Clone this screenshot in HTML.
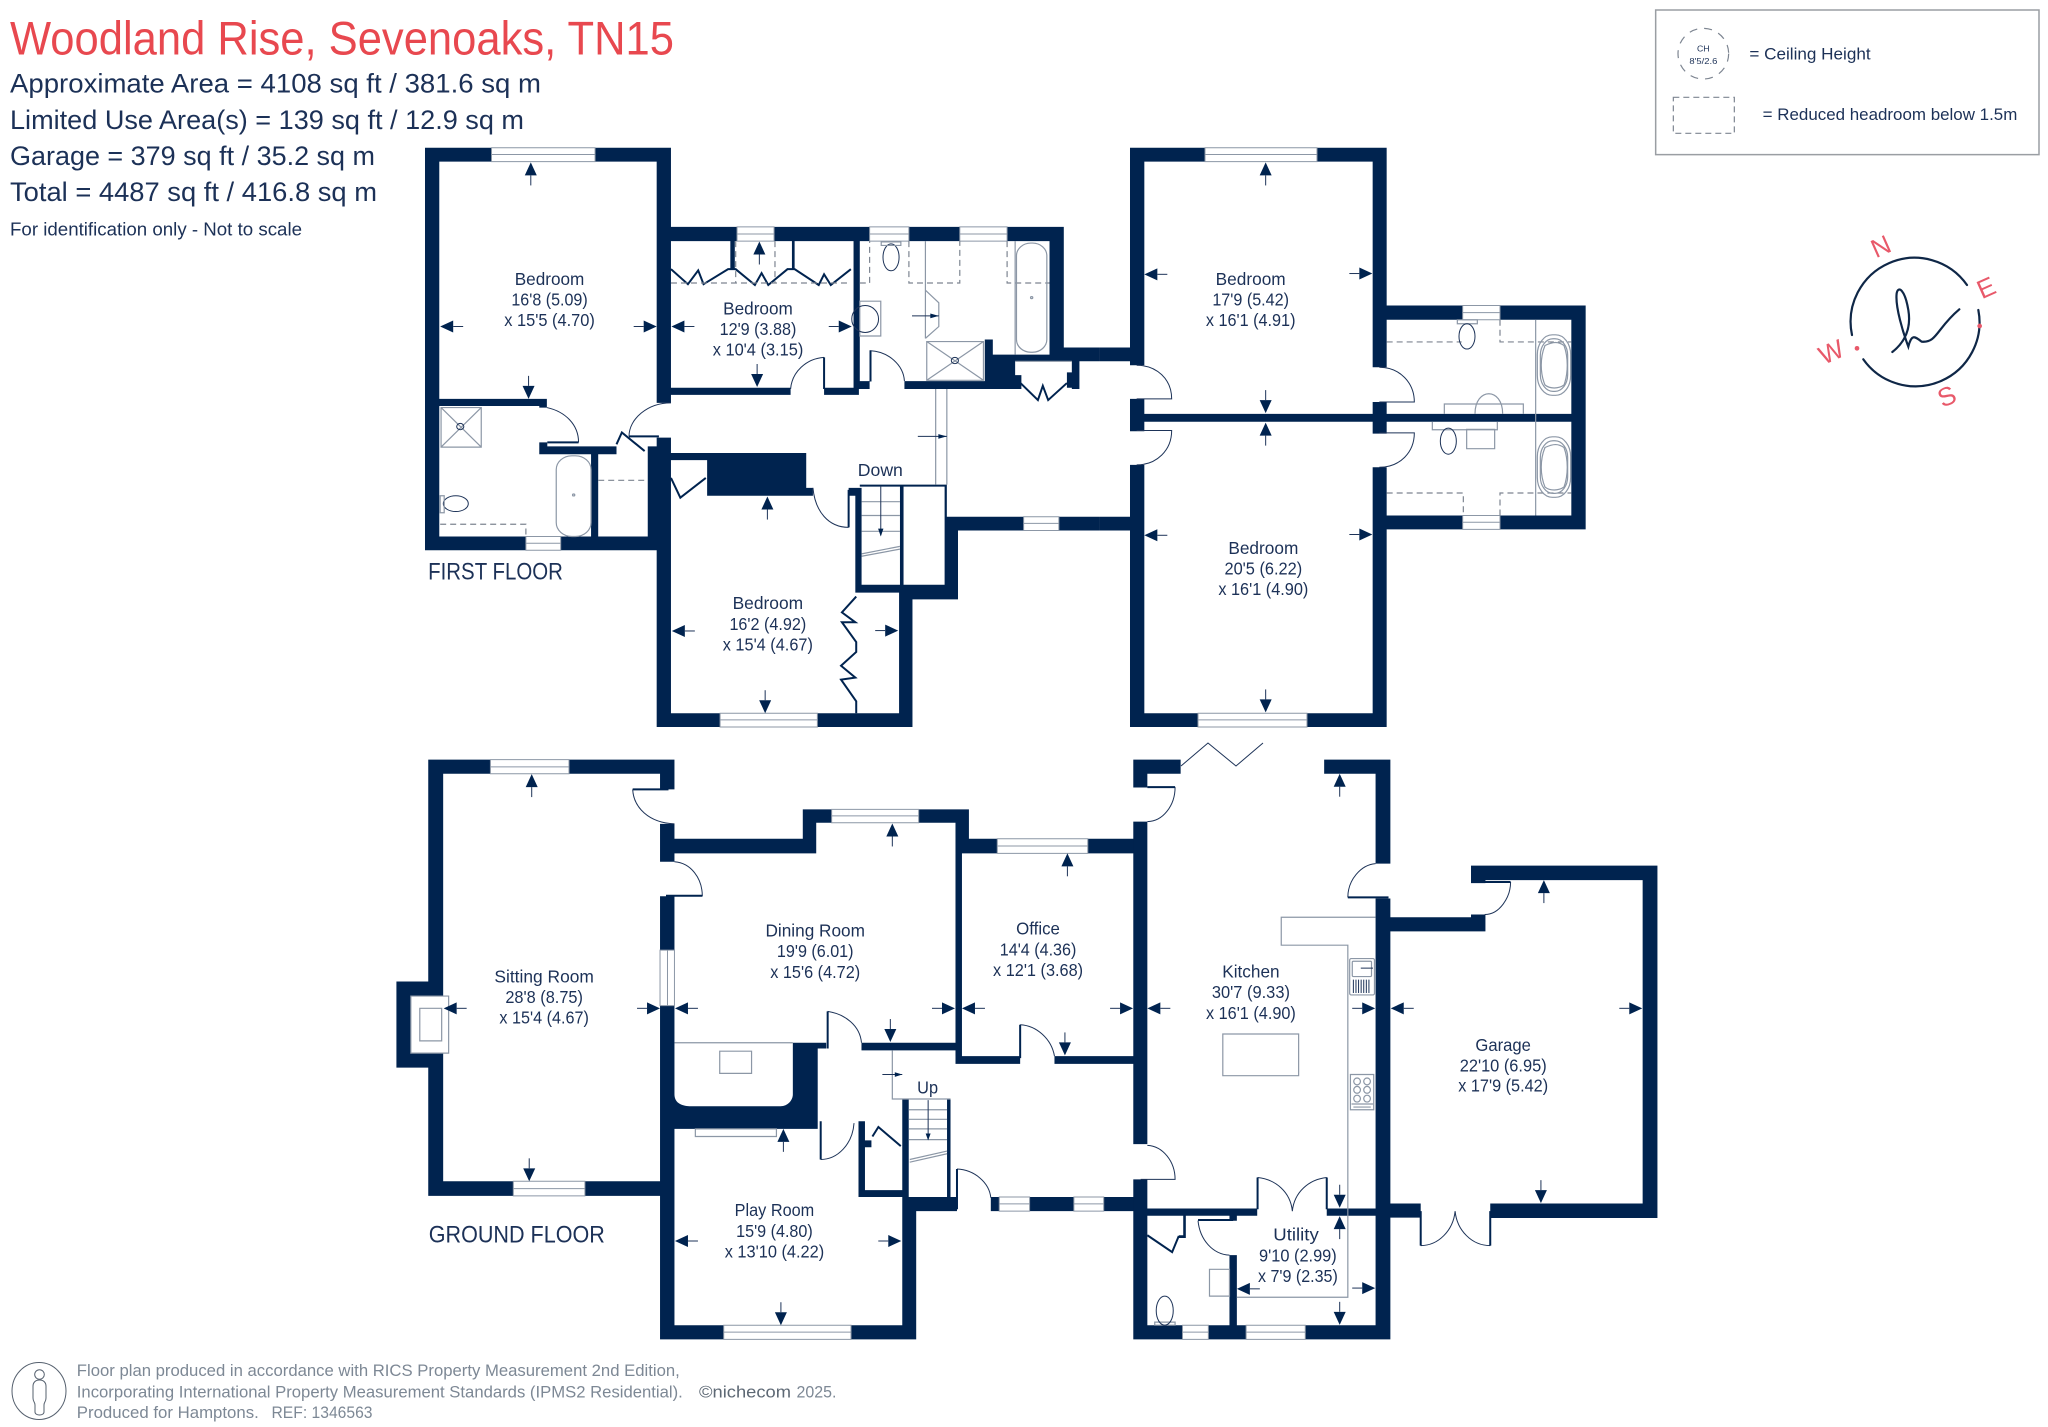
<!DOCTYPE html>
<html><head><meta charset="utf-8"><title>Woodland Rise floor plan</title>
<style>
html,body{margin:0;padding:0;background:#fff}
svg{display:block;font-family:"Liberation Sans",sans-serif}
svg *{vector-effect:non-scaling-stroke}
.w{fill:#00234f;stroke:none}
.win{fill:#fff;stroke:#8c97a6;stroke-width:1}
.l{fill:none;stroke:#1d3358;stroke-width:1}
.t{fill:none;stroke:#00234f;stroke-width:2}
.g{fill:none;stroke:#8c97a6;stroke-width:1.2}
.gw{fill:#fff;stroke:#8c97a6;stroke-width:1.2}
.d{fill:none;stroke:#7d8591;stroke-width:1.2;stroke-dasharray:6 4}
text{fill:#1c3157}
.c{text-anchor:middle}
.f{fill:#7d8895}
.r{fill:#e8596a}
</style></head><body>
<svg width="2048" height="1427" viewBox="0 0 2048 1427" xmlns="http://www.w3.org/2000/svg">
<defs>
<g id="a"><path d="M0 0L6 13H-6Z" fill="#00234f"/><path d="M0 13V23" stroke="#1d3358" fill="none" stroke-width="1"/></g>
<g id="u1" transform="scale(2.24 2.53)"><use href="#a"/></g>
<g id="d1" transform="rotate(180) scale(2.24 2.53)"><use href="#a"/></g>
<g id="r1" transform="rotate(90) scale(2.53 2.24)"><use href="#a"/></g>
<g id="l1" transform="rotate(270) scale(2.53 2.24)"><use href="#a"/></g>
<g id="u2" transform="scale(3 2.53)"><use href="#a"/></g>
<g id="d2" transform="rotate(180) scale(3 2.53)"><use href="#a"/></g>
<g id="r2" transform="rotate(90) scale(2.53 3)"><use href="#a"/></g>
<g id="l2" transform="rotate(270) scale(2.53 3)"><use href="#a"/></g>
<g id="u3" transform="scale(2.01 2.61)"><use href="#a"/></g>
<g id="d3" transform="rotate(180) scale(2.01 2.61)"><use href="#a"/></g>
<g id="r3" transform="rotate(90) scale(2.61 2.01)"><use href="#a"/></g>
<g id="l3" transform="rotate(270) scale(2.61 2.01)"><use href="#a"/></g>
<g id="u4" transform="scale(2.703 2.61)"><use href="#a"/></g>
<g id="d4" transform="rotate(180) scale(2.703 2.61)"><use href="#a"/></g>
<g id="r4" transform="rotate(90) scale(2.61 2.703)"><use href="#a"/></g>
<g id="l4" transform="rotate(270) scale(2.61 2.703)"><use href="#a"/></g>
</defs>

<!-- header -->
<text x="10" y="54.5" font-size="47" textLength="664" lengthAdjust="spacingAndGlyphs" style="fill:#e8484f">Woodland Rise, Sevenoaks, TN15</text>
<text x="10" y="92.7" font-size="27" textLength="531" lengthAdjust="spacingAndGlyphs">Approximate Area = 4108 sq ft / 381.6 sq m</text>
<text x="10" y="129" font-size="27" textLength="514" lengthAdjust="spacingAndGlyphs">Limited Use Area(s) = 139 sq ft / 12.9 sq m</text>
<text x="10" y="165" font-size="27" textLength="365" lengthAdjust="spacingAndGlyphs">Garage = 379 sq ft / 35.2 sq m</text>
<text x="10" y="201" font-size="27" textLength="367" lengthAdjust="spacingAndGlyphs">Total = 4487 sq ft / 416.8 sq m</text>
<text x="10" y="235.7" font-size="18.5" textLength="292" lengthAdjust="spacingAndGlyphs">For identification only - Not to scale</text>

<!-- legend + compass -->
<g transform="translate(1640 0) scale(.33333)">
<rect x="47" y="30" width="1150" height="434" fill="#fff" stroke="#9a9ea3" stroke-width="1.5"/>
<circle cx="190" cy="161" r="76" class="d" style="stroke-dasharray:8 7"/>
<text x="190" y="155" class="c" font-size="26" textLength="38" lengthAdjust="spacingAndGlyphs">CH</text>
<text x="190" y="192" class="c" font-size="26" textLength="84" lengthAdjust="spacingAndGlyphs">8'5/2.6</text>
<rect x="100" y="292" width="183" height="108" class="d"/>
<text x="328" y="178" font-size="51" textLength="364" lengthAdjust="spacingAndGlyphs">= Ceiling Height</text>
<text x="368" y="360" font-size="51" textLength="764" lengthAdjust="spacingAndGlyphs">= Reduced headroom below 1.5m</text>
<g fill="none" stroke="#0f2747" style="stroke-width:2.2" stroke-linecap="round">
<path d="M636 1005A192 192 0 0 1 981 855"/>
<path d="M1015 930A192 192 0 0 1 670 1078"/>
<path d="M757 1056C790 1030 815 990 805 930C795 870 775 855 770 880C765 920 790 1000 805 1040C815 1000 825 1010 845 1025C890 1030 890 985 958 928"/>
</g>
<circle cx="651" cy="1045" r="7" class="r"/><circle cx="1019" cy="978" r="7" class="r"/>
<g font-size="78" text-anchor="middle">
<text transform="translate(722 738) rotate(-24) translate(0 28)" style="fill:#e8596a">N</text>
<text transform="translate(1038 862) rotate(-24) translate(0 28)" style="fill:#e8596a">E</text>
<text transform="translate(920 1188) rotate(-24) translate(0 28)" style="fill:#e8596a">S</text>
<text transform="translate(573 1055) rotate(-24) translate(0 28)" style="fill:#e8596a">W</text>
</g>
</g>

<!-- Z1: first floor west -->
<g transform="translate(400 130) scale(.4464 .3954)">
<path class="w" d="M56 45H205V80H56ZM437 45H607V80H437ZM56 45H88V1063H56ZM575 45H607V690H575ZM56 1028H282V1063H56ZM360 1028H575V1063H360ZM88 680H329V702H312V698H88ZM312 790H330V800H485V820H312ZM428 800H444V1028H428ZM555 800H575V1028H555ZM575 778H607V1510H575ZM607 245H755V281H607ZM838 245H1052V281H838ZM1140 245H1254V281H1140ZM1360 245H1487V281H1360ZM1455 245H1487V585H1455ZM1016 281H1030V655H1016ZM607 652H875V670H607ZM950 652H1028V670H950ZM1030 635H1052V655H1030ZM1130 635H1390V655H1130ZM1310 530H1328V655H1310ZM1328 568H1487V585H1328ZM1487 550H1568V585H1487ZM1328 585H1378V655H1328ZM1378 620H1392V655H1378ZM1505 585H1522V655H1505ZM1494 613H1522V652H1494ZM607 817H688V835H607ZM688 817H910V905H925V925H688ZM1005 905H1034V925H1005ZM1020 905H1034V1170H1020ZM1030 897H1225V902H1030ZM1120 900H1128V1150H1120ZM1220 902H1225V1150H1220ZM1020 1150H1250V1170H1020ZM1225 978H1397V1013H1225ZM1476 978H1568V1013H1476ZM1225 1013H1250V1187H1148V1510H1118V1170H1225ZM575 1475H717V1510H575ZM935 1475H1148V1510H935ZM740 281H750V352H740ZM878 281H884V352H878Z"/>
<path class="win" d="M205 45H437V80H205ZM205 62H437M755 245H838V281H755ZM755 263H838M1052 245H1140V281H1052ZM1052 263H1140M1254 245H1360V281H1254ZM1254 263H1360M282 1028H360V1063H282ZM282 1045H360M717 1475H935V1510H717ZM717 1492H935M1397 978H1476V1013H1397ZM1397 995H1476"/>
<path class="l" d="M607 690C555 690 513 730 513 775M329 702C370 712 400 745 400 790M875 655C878 612 910 578 950 575M1052 558C1095 560 1128 595 1130 635M925 905C930 965 960 1005 1005 1005"/>
<path class="t" d="M513 775H580M330 790H400M485 795L497 765L548 812M950 575V655M1054 558V636M1005 910V1005M607 880L628 930L685 880M607 352L645 390L668 355L680 390L735 352H752L795 392L810 362L825 392L868 352H884L938 392L950 365L965 392L1010 352M1022 1180L990 1220L1020 1245L990 1245L1022 1295V1320L988 1355L1020 1385L988 1390L1022 1445V1475M1390 640L1429 683L1440 647L1452 683L1494 640"/>
<path class="d" d="M90 997H282V1028M444 886H555M607 387H1010M752 281V387M840 281V387M1030 387H1052V281M1140 281V387H1254V281M1360 281V387H1455"/>
<path class="g" d="M92 702H182V802H92ZM92 702L182 802M182 702L92 802M1177 281V527M1177 405L1207 437V497L1177 527M1180 535H1307V633H1180ZM1180 535L1307 633M1307 535L1180 633M1200 655V897M1225 655V897M1378 585H1505M1034 940H1120M1034 975H1120M1034 1015H1120M1034 1072L1120 1053M1034 1078L1120 1060"/>
<rect x="350" y="824" width="78" height="204" rx="35" class="g"/><circle cx="389" cy="923" r="2.5" class="g"/>
<rect x="1381" y="286" width="68" height="276" rx="32" class="g"/><path class="g" d="M1378 281V568"/><circle cx="1415" cy="424" r="2.5" class="g"/>
<ellipse cx="125" cy="945" rx="28" ry="20" class="l"/><path class="g" d="M90 925H99V968H90Z"/>
<ellipse cx="1100" cy="322" rx="18" ry="34" class="l"/><rect x="1078" y="283" width="44" height="9" class="g"/>
<rect x="1030" y="433" width="47" height="88" class="g"/><ellipse cx="1042" cy="478" rx="30" ry="34" class="l"/>
<circle cx="135" cy="750" r="8" class="l"/><circle cx="1243" cy="583" r="8" class="l"/>
<path class="l" d="M1147 470H1207M1160 775H1225M1077 900V1025"/>
<path class="w" d="M1207 470L1188 464V476ZM1225 775L1206 769V781ZM1077 1028L1071 1008H1083Z"/>
<use href="#u1" x="293" y="82"/><use href="#l1" x="90" y="497"/><use href="#r1" x="575" y="497"/><use href="#l1" x="608" y="497"/><use href="#r1" x="1012" y="497"/><use href="#u1" x="805" y="282"/><use href="#d1" x="800" y="650"/><use href="#d1" x="288" y="680"/><use href="#u1" x="823" y="927"/><use href="#l1" x="609" y="1267"/><use href="#r1" x="1116" y="1266"/><use href="#d1" x="818" y="1475"/>
<g font-size="45">
<text x="335" y="392" class="c" textLength="156" lengthAdjust="spacingAndGlyphs">Bedroom</text>
<text x="335" y="444" class="c" textLength="171" lengthAdjust="spacingAndGlyphs">16'8 (5.09)</text>
<text x="335" y="496" class="c" textLength="203" lengthAdjust="spacingAndGlyphs">x 15'5 (4.70)</text>
<text x="802" y="467" class="c" textLength="156" lengthAdjust="spacingAndGlyphs">Bedroom</text>
<text x="802" y="519" class="c" textLength="172" lengthAdjust="spacingAndGlyphs">12'9 (3.88)</text>
<text x="802" y="570" class="c" textLength="203" lengthAdjust="spacingAndGlyphs">x 10'4 (3.15)</text>
<text x="824" y="1212" class="c" textLength="158" lengthAdjust="spacingAndGlyphs">Bedroom</text>
<text x="824" y="1264" class="c" textLength="172" lengthAdjust="spacingAndGlyphs">16'2 (4.92)</text>
<text x="824" y="1316" class="c" textLength="202" lengthAdjust="spacingAndGlyphs">x 15'4 (4.67)</text>
<text x="1076" y="875" class="c" textLength="101" lengthAdjust="spacingAndGlyphs">Down</text>
</g>
<text x="63" y="1137" font-size="60" textLength="302" lengthAdjust="spacingAndGlyphs">FIRST FLOOR</text>
</g>

<!-- Z2: first floor east -->
<g transform="translate(1100 130) scale(.33333 .3954)">
<path class="w" d="M0 550H90V585H0ZM0 978H90V1013H0ZM90 45H315V80H90ZM651 45H860V80H651ZM90 45H133V595H90ZM90 680H133V762H90ZM90 847H133V1510H90ZM818 45H860V600H818ZM818 688H860V768H818ZM818 853H860V1510H818ZM90 1475H294V1510H90ZM621 1475H860V1510H621ZM133 718H1430V738H133ZM860 444H1088V480H860ZM1200 444H1457V480H1200ZM1414 444H1457V1010H1414ZM860 975H1088V1010H860ZM1200 975H1457V1010H1200Z"/>
<path class="win" d="M315 45H651V80H315ZM315 62H651M294 1475H621V1510H294ZM294 1492H621M1088 444H1200V480H1088ZM1088 462H1200M1088 975H1200V1010H1088ZM1088 992H1200"/>
<path class="l" d="M110 595C170 595 215 630 215 680H110M110 847C170 847 215 810 215 760H110M838 600C900 600 943 640 943 688H838M838 853C900 853 943 815 943 766H838"/>
<path class="d" d="M860 536H1085M1200 480V536H1414M860 918H1090V975M1200 975V918H1414"/>
<path class="g" d="M1307 480V975M1033 718V693H1270V718M997 738V758H1192V738M1100 757H1184V806H1100ZM1125 718C1125 650 1208 650 1208 718M1072 480H1132V490H1072Z"/>
<ellipse cx="1101" cy="522" rx="24" ry="32" class="l"/><ellipse cx="1045" cy="787" rx="24" ry="33" class="l"/>
<rect x="1312" y="518" width="100" height="153" rx="45" ry="50" class="g"/><rect x="1321" y="528" width="82" height="133" rx="38" ry="42" class="g"/><path class="g" d="M1335 545C1360 535 1375 535 1392 545C1405 575 1405 615 1392 645C1375 655 1350 655 1335 645C1320 615 1320 575 1335 545Z"/>
<rect x="1312" y="776" width="100" height="153" rx="45" ry="50" class="g"/><rect x="1321" y="786" width="82" height="133" rx="38" ry="42" class="g"/><path class="g" d="M1335 803C1360 793 1375 793 1392 803C1405 833 1405 873 1392 903C1375 913 1350 913 1335 903C1320 873 1320 833 1335 803Z"/>
<use href="#u2" x="497" y="82"/><use href="#l2" x="133" y="365"/><use href="#r2" x="817" y="363"/><use href="#d2" x="497" y="716"/><use href="#u2" x="497" y="740"/><use href="#l2" x="133" y="1025"/><use href="#r2" x="817" y="1023"/><use href="#d2" x="497" y="1473"/>
<g font-size="45">
<text x="452" y="392" class="c" textLength="210" lengthAdjust="spacingAndGlyphs">Bedroom</text>
<text x="452" y="444" class="c" textLength="230" lengthAdjust="spacingAndGlyphs">17'9 (5.42)</text>
<text x="452" y="496" class="c" textLength="269" lengthAdjust="spacingAndGlyphs">x 16'1 (4.91)</text>
<text x="490" y="1072" class="c" textLength="210" lengthAdjust="spacingAndGlyphs">Bedroom</text>
<text x="490" y="1124" class="c" textLength="233" lengthAdjust="spacingAndGlyphs">20'5 (6.22)</text>
<text x="490" y="1176" class="c" textLength="270" lengthAdjust="spacingAndGlyphs">x 16'1 (4.90)</text>
</g>
</g>

<!-- Z3: ground floor west -->
<g transform="translate(380 750) scale(.4974 .3827)">
<path class="w" d="M97 25H222V62H97ZM380 25H592V62H380ZM563 62H592V103H563ZM97 25H127V605H97ZM33 605H127V830H33ZM97 830H127V1165H97ZM97 1127H268V1165H97ZM412 1127H592V1165H412ZM563 193H592V292H563ZM592 232H877V270H592ZM850 155H908V190H877V232H850ZM1083 155H1184V270H1157V190H1083ZM1157 270H1170V820H1157ZM1170 232H1241V270H1170ZM1423 232H1515V270H1423ZM563 382H592V523H563ZM563 668H592V1540H563ZM1170 800H1287V820H1170ZM1356 800H1515V820H1356ZM968 765H1157V785H968ZM880 765H897V780H880ZM830 765H880V990H592V900C592 925 610 931 625 931H805C820 931 830 915 830 900ZM962 970H975V1168H962ZM975 1020H988V1038H975ZM962 1150H1050V1168H962ZM1050 912H1063V1168H1050ZM1140 912H1147V1170H1140ZM1050 1168H1160V1205H1078V1540H1050ZM1228 1168H1245V1205H1228ZM1306 1168H1395V1205H1306ZM1455 1168H1515V1205H1455ZM563 1503H691V1540H563ZM947 1503H1078V1540H947Z"/>
<path class="win" d="M222 25H380V62H222ZM222 44H380M268 1127H412V1165H268ZM268 1146H412M908 155H1083V190H908ZM908 172H1083M1241 232H1423V270H1241ZM1241 251H1423M563 523H592V668H563ZM578 523V668M691 1503H947V1540H691ZM691 1521H947M1245 1168H1306V1205H1245ZM1245 1186H1306M1395 1168H1455V1205H1395ZM1395 1186H1455"/>
<rect x="62" y="643" width="76" height="149" class="gw"/><rect x="80" y="675" width="44" height="85" class="g"/>
<rect x="683" y="787" width="64" height="58" class="g"/><rect x="634" y="990" width="163" height="20" class="g"/>
<path class="g" d="M592 765H830M1030 785V912H1147M1063 940H1140M1063 965H1140M1063 990H1140M1063 1018H1140M1065 1070L1140 1048M1065 1077L1140 1055"/>
<path class="l" d="M508 103C510 150 540 190 592 193M592 292C625 295 648 335 648 382M900 683C935 690 965 720 968 765M1287 718C1320 720 1350 755 1356 800M886 1070C920 1070 950 1030 953 975M1160 1095C1195 1097 1225 1130 1228 1170M1010 848H1050M1102 915V1018"/>
<path class="w" d="M1050 848L1035 842V854ZM1102 1020L1097 1002H1107Z"/>
<path class="t" d="M508 103H580M575 381H648M900 683V780M1287 718V805M886 970V1070M1160 1095V1200M990 1010L1002 985L1047 1035"/>
<use href="#u3" x="305" y="63"/><use href="#l3" x="128" y="675"/><use href="#r3" x="563" y="675"/><use href="#l3" x="593" y="675"/><use href="#r3" x="1156" y="675"/><use href="#l3" x="1170" y="675"/><use href="#r3" x="1514" y="675"/><use href="#d3" x="1026" y="763"/><use href="#u3" x="1382" y="270"/><use href="#u3" x="1030" y="192"/><use href="#d3" x="1377" y="798"/><use href="#d3" x="300" y="1127"/><use href="#u3" x="811" y="990"/><use href="#l3" x="593" y="1283"/><use href="#r3" x="1048" y="1283"/><use href="#d3" x="806" y="1503"/>
<g font-size="47">
<text x="330" y="607" class="c" textLength="200" lengthAdjust="spacingAndGlyphs">Sitting Room</text>
<text x="330" y="661" class="c" textLength="156" lengthAdjust="spacingAndGlyphs">28'8 (8.75)</text>
<text x="330" y="715" class="c" textLength="180" lengthAdjust="spacingAndGlyphs">x 15'4 (4.67)</text>
<text x="875" y="488" class="c" textLength="200" lengthAdjust="spacingAndGlyphs">Dining Room</text>
<text x="875" y="541" class="c" textLength="154" lengthAdjust="spacingAndGlyphs">19'9 (6.01)</text>
<text x="875" y="596" class="c" textLength="181" lengthAdjust="spacingAndGlyphs">x 15'6 (4.72)</text>
<text x="1323" y="482" class="c" textLength="88" lengthAdjust="spacingAndGlyphs">Office</text>
<text x="1323" y="537" class="c" textLength="154" lengthAdjust="spacingAndGlyphs">14'4 (4.36)</text>
<text x="1323" y="591" class="c" textLength="181" lengthAdjust="spacingAndGlyphs">x 12'1 (3.68)</text>
<text x="793" y="1218" class="c" textLength="160" lengthAdjust="spacingAndGlyphs">Play Room</text>
<text x="793" y="1272" class="c" textLength="154" lengthAdjust="spacingAndGlyphs">15'9 (4.80)</text>
<text x="793" y="1326" class="c" textLength="200" lengthAdjust="spacingAndGlyphs">x 13'10 (4.22)</text>
<text x="1101" y="897" class="c" textLength="42" lengthAdjust="spacingAndGlyphs">Up</text>
</g>
<text x="98" y="1287" font-size="62" textLength="354" lengthAdjust="spacingAndGlyphs">GROUND FLOOR</text>
</g>

<!-- Z4: kitchen + garage -->
<path d="M1181 766L1208 743L1236 766L1263 743" class="l"/>
<g transform="translate(1100 750) scale(.3699 .3827)">
<path class="w" d="M90 25H218V62H128V98H90ZM606 25H785V62H606ZM745 62H785V297H745ZM745 388H785V1540H745ZM90 187H128V1030H90ZM90 1122H128V1540H90ZM90 1503H223V1540H90ZM293 1503H395V1540H293ZM555 1503H785V1540H555ZM128 1198H425V1217H128ZM613 1198H745V1217H613ZM225 1217H232V1275H213V1268H225ZM350 1217H370V1230H350ZM350 1320H370V1505H350ZM785 437H1042V474H785ZM1003 430H1042V437H1003ZM1003 302H1507V340H1042V348H1003ZM1467 340H1507V1223H1467ZM1055 1185H1467V1223H1055ZM785 1185H867V1222H785Z"/>
<path class="win" d="M223 1503H293V1540H223ZM223 1521H293M395 1503H555V1540H395ZM395 1521H555"/>
<path class="l" d="M203 97C203 145 170 187 128 187M128 1033C170 1035 203 1075 203 1122H110M745 297C705 300 670 340 670 385M1110 345C1110 385 1080 430 1040 430M426 1117C475 1122 515 1155 520 1205C525 1155 565 1122 613 1117M867 1295C915 1295 955 1255 960 1205C965 1255 1005 1295 1055 1295M265 1230C270 1280 305 1318 350 1320"/>
<path class="t" d="M128 97H203M670 385H780M1040 345H1110M426 1200V1117M613 1200V1117M867 1205V1295M1055 1205V1295M265 1228H360M128 1268L195 1312L213 1270"/>
<path class="g" d="M745 437H490V510H670V1430H370M332 742H537V851H332ZM296 1357H350V1427H296ZM148 1495H203V1503H148Z"/>
<rect x="675" y="545" width="67" height="95" rx="4" class="g"/><rect x="682" y="552" width="52" height="40" rx="3" class="g"/>
<path class="l" d="M685 600V635M692 600V635M699 600V635M706 600V635M713 600V635M720 600V635M727 600V635M705 570H738"/>
<rect x="677" y="848" width="63" height="92" class="g"/>
<ellipse cx="695" cy="866" rx="9" ry="9" class="g"/><ellipse cx="722" cy="866" rx="9" ry="9" class="g"/><ellipse cx="695" cy="888" rx="9" ry="9" class="g"/><ellipse cx="722" cy="888" rx="9" ry="9" class="g"/><ellipse cx="695" cy="911" rx="9" ry="9" class="g"/><ellipse cx="722" cy="911" rx="9" ry="9" class="g"/>
<path class="g" d="M680 925H738M685 933H732"/>
<ellipse cx="175" cy="1465" rx="23" ry="38" class="l"/>
<use href="#u4" x="648" y="62"/><use href="#l4" x="128" y="675"/><use href="#r4" x="744" y="675"/><use href="#l4" x="786" y="675"/><use href="#r4" x="1466" y="675"/><use href="#u4" x="1200" y="340"/><use href="#d4" x="1192" y="1184"/><use href="#d4" x="648" y="1196"/><use href="#u4" x="648" y="1218"/><use href="#l4" x="370" y="1408"/><use href="#r4" x="744" y="1406"/><use href="#d4" x="648" y="1502"/>
<g font-size="47">
<text x="408" y="595" class="c" textLength="155" lengthAdjust="spacingAndGlyphs">Kitchen</text>
<text x="408" y="648" class="c" textLength="211" lengthAdjust="spacingAndGlyphs">30'7 (9.33)</text>
<text x="408" y="703" class="c" textLength="243" lengthAdjust="spacingAndGlyphs">x 16'1 (4.90)</text>
<text x="1090" y="786" class="c" textLength="150" lengthAdjust="spacingAndGlyphs">Garage</text>
<text x="1090" y="840" class="c" textLength="235" lengthAdjust="spacingAndGlyphs">22'10 (6.95)</text>
<text x="1090" y="893" class="c" textLength="243" lengthAdjust="spacingAndGlyphs">x 17'9 (5.42)</text>
<text x="530" y="1282" class="c" textLength="123" lengthAdjust="spacingAndGlyphs">Utility</text>
<text x="535" y="1336" class="c" textLength="210" lengthAdjust="spacingAndGlyphs">9'10 (2.99)</text>
<text x="535" y="1390" class="c" textLength="216" lengthAdjust="spacingAndGlyphs">x 7'9 (2.35)</text>
</g>
</g>

<!-- footer -->
<ellipse cx="39" cy="1391" rx="27" ry="28.5" fill="none" stroke="#55606e" stroke-width="1"/>
<circle cx="39.5" cy="1374.5" r="4.8" fill="none" stroke="#55606e" stroke-width="1"/>
<path d="M39.5 1380C35 1380 33 1383 33 1386V1398C33 1402 35 1402 35 1405V1412C35 1416 44 1416 44 1412V1405C44 1402 46 1402 46 1398V1386C46 1383 44 1380 39.5 1380Z" fill="none" stroke="#55606e" stroke-width="1"/>
<g font-size="17">
<text style="fill:#7d8895" x="76.8" y="1376" textLength="603" lengthAdjust="spacingAndGlyphs">Floor plan produced in accordance with RICS Property Measurement 2nd Edition,</text>
<text style="fill:#7d8895" x="76.8" y="1397.3" textLength="606" lengthAdjust="spacingAndGlyphs">Incorporating International Property Measurement Standards (IPMS2 Residential).</text>
<text style="fill:#5d6874" x="699" y="1397.3" textLength="92" lengthAdjust="spacingAndGlyphs">©nichecom</text>
<text style="fill:#7d8895" x="796.5" y="1397.3" textLength="40" lengthAdjust="spacingAndGlyphs">2025.</text>
<text style="fill:#7d8895" x="76.8" y="1418" textLength="182" lengthAdjust="spacingAndGlyphs">Produced for Hamptons.</text>
<text style="fill:#7d8895" x="271.5" y="1418" textLength="101" lengthAdjust="spacingAndGlyphs">REF: 1346563</text>
</g>
</svg>
</body></html>
